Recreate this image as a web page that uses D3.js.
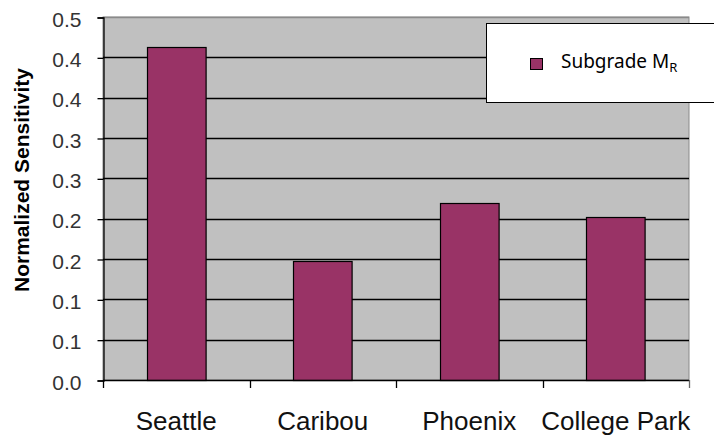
<!DOCTYPE html>
<html><head><meta charset="utf-8">
<script src="https://cdn.jsdelivr.net/npm/d3@7"></script>
<style>html,body{margin:0;padding:0;background:#fff;}svg{display:block;}</style>
</head><body>
<svg id="chart" width="714" height="437"></svg>
<script>
const categories = ["Seattle", "Caribou", "Phoenix", "College Park"];
const values = [0.413, 0.147, 0.220, 0.202];
const seriesName = "Subgrade M";
const seriesSub = "R";
const yTickValues = [0, 0.05, 0.10, 0.15, 0.20, 0.25, 0.30, 0.35, 0.40, 0.45];
const yTickLabels = ["0.0", "0.1", "0.1", "0.2", "0.2", "0.3", "0.3", "0.4", "0.4", "0.5"];
const yTitle = "Normalized Sensitivity";

const svg = d3.select("#chart");
const L = 103, T = 17, R = 689, B = 380;

const x = d3.scaleBand().domain(categories).range([L, R]).paddingInner(0.6).paddingOuter(0.3);
const xb = d3.scaleBand().domain(categories).range([L, R]);
const y = d3.scaleLinear().domain([0, 0.45]).range([B, T]);

// plot background
svg.append("rect").attr("x", L).attr("y", T).attr("width", R - L).attr("height", B - T)
  .attr("fill", "#c0c0c0").attr("stroke", "#8a8a8a").attr("stroke-width", 1);

// gridlines
svg.append("g").selectAll("line").data(yTickValues.filter(v => v > 0))
  .join("line")
  .attr("x1", L).attr("x2", R)
  .attr("y1", d => Math.round(y(d)) + 0.5).attr("y2", d => Math.round(y(d)) + 0.5)
  .attr("stroke", d => d === 0.45 ? "#8a8a8a" : "#000").attr("stroke-width", 1.3);

// bars
svg.append("g").selectAll("rect").data(values)
  .join("rect")
  .attr("x", (d, i) => Math.round(x(categories[i])) + 0.5)
  .attr("y", d => Math.round(y(d)) + 0.5)
  .attr("width", x.bandwidth())
  .attr("height", d => B - Math.round(y(d)))
  .attr("fill", "#993366").attr("stroke", "#000").attr("stroke-width", 1.2);

// y axis
const yAxis = d3.axisLeft(y).tickValues(yTickValues)
  .tickFormat((d, i) => yTickLabels[i]).tickSize(6).tickPadding(16);
const gy = svg.append("g").attr("transform", `translate(${L + 0.5},0.5)`).call(yAxis);
gy.select(".domain").attr("stroke", "#000").attr("stroke-width", 1.3);
gy.selectAll(".tick line").attr("stroke", "#000").attr("stroke-width", 1.3);
gy.selectAll(".tick text").attr("font-family", "Liberation Sans, Arial, sans-serif")
  .attr("font-size", 21).attr("fill", "#333").attr("dy", "0.42em");

// x axis (ticks between categories)
const xTickPos = categories.map(c => xb(c)).concat([R]);
const gx = svg.append("g");
gx.append("line").attr("x1", L).attr("x2", R).attr("y1", B + 0.5).attr("y2", B + 0.5)
  .attr("stroke", "#000").attr("stroke-width", 1.3);
gx.selectAll("line.t").data(xTickPos).join("line").attr("class", "t")
  .attr("x1", d => Math.round(d) + 0.5).attr("x2", d => Math.round(d) + 0.5)
  .attr("y1", B).attr("y2", B + 8)
  .attr("stroke", (d, i) => i === xTickPos.length - 1 ? "#666" : "#000").attr("stroke-width", 1.3);
gx.selectAll("text").data(categories).join("text")
  .attr("x", d => xb(d) + xb.bandwidth() / 2).attr("y", 430)
  .attr("text-anchor", "middle")
  .attr("font-family", "Liberation Sans, Arial, sans-serif").attr("font-size", 26)
  .attr("fill", "#111").text(d => d);

// y title
svg.append("text")
  .attr("transform", `translate(29,180) rotate(-90)`)
  .attr("text-anchor", "middle")
  .attr("font-family", "Liberation Sans, Arial, sans-serif").attr("font-weight", "bold")
  .attr("font-size", 21).attr("fill", "#000").text(yTitle);

// legend
const lg = svg.append("g");
lg.append("rect").attr("x", 486.5).attr("y", 23.5).attr("width", 240).attr("height", 79)
  .attr("fill", "#fff").attr("stroke", "#000").attr("stroke-width", 1);
lg.append("rect").attr("x", 530.5).attr("y", 58.5).attr("width", 12).attr("height", 11)
  .attr("fill", "#993366").attr("stroke", "#000").attr("stroke-width", 1);
const lt = lg.append("text").attr("x", 561).attr("y", 68)
  .attr("font-family", "Noto Sans, Open Sans, sans-serif").attr("font-size", 19).attr("fill", "#000");
lt.append("tspan").text(seriesName);
lt.append("tspan").attr("font-size", 13).attr("dy", 4).text(seriesSub);
</script>
</body></html>
